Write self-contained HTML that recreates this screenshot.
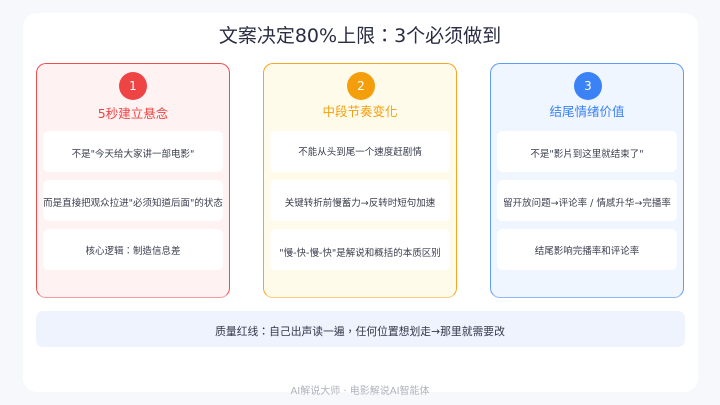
<!DOCTYPE html>
<html><head><meta charset="utf-8"><style>
*{box-sizing:border-box;margin:0;padding:0}
html,body{width:720px;height:405px;overflow:hidden;background:#f7f8fc}
body{position:relative;font-family:"DejaVu Sans","Noto Sans CJK TC",sans-serif;color:#333648}
div{position:absolute}
.t{white-space:nowrap;text-align:center;transform:translateX(-50%);filter:blur(.25px)}
.card{top:63px;width:194px;height:235px;border-radius:10px;border:1px solid}
.b{width:180px;height:41px;background:#fff;border-radius:6px}
.c{top:72px;width:28px;height:28px;border-radius:50%;color:#fff;font-size:12px;line-height:28px;text-align:center}
.h{font-size:12.5px;line-height:18px}
.s{font-size:9.5px;line-height:14px;color:#3a3d4e}
</style></head><body>
<div style="left:23px;top:13px;width:675px;height:379px;background:#fff;border-radius:14px"></div>
<div class="t" style="left:360px;top:22px;font-size:19px;line-height:28px;color:#2a2d42">文案决定80%上限：3个必须做到</div>

<div class="card" style="left:36px;background:#fff2f2;border-color:#ef4c50 #ef4c50 #f79c9c"></div>
<div class="card" style="left:263px;background:#fffbeb;border-color:#f7a422 #f7a422 #fccb7a"></div>
<div class="card" style="left:490px;background:#eff6ff;border-color:#5f9af5 #5f9af5 #8fb8fa"></div>

<div class="c" style="left:119px;background:#ef4444">1</div>
<div class="c" style="left:347px;background:#f59e0b">2</div>
<div class="c" style="left:574px;background:#3b82f6">3</div>

<div class="t h" style="left:133px;top:105px;color:#ef4444">5秒建立悬念</div>
<div class="t h" style="left:360px;top:103px;color:#f59e0b">中段节奏变化</div>
<div class="t h" style="left:587px;top:103px;color:#3b82f6">结尾情绪价值</div>

<div class="b" style="left:43px;top:131px"></div>
<div class="b" style="left:43px;top:180px"></div>
<div class="b" style="left:43px;top:229px"></div>
<div class="b" style="left:270px;top:131px"></div>
<div class="b" style="left:270px;top:180px"></div>
<div class="b" style="left:270px;top:229px"></div>
<div class="b" style="left:497px;top:131px"></div>
<div class="b" style="left:497px;top:180px"></div>
<div class="b" style="left:497px;top:229px"></div>

<div class="t s" style="left:133px;top:148px">不是"今天给大家讲一部电影"</div>
<div class="t s" style="left:133px;top:197px">而是直接把观众拉进"必须知道后面"的状态</div>
<div class="t s" style="left:133px;top:245px">核心逻辑：制造信息差</div>
<div class="t s" style="left:360px;top:146px">不能从头到尾一个速度赶剧情</div>
<div class="t s" style="left:360px;top:197px">关键转折前慢蓄力→反转时短句加速</div>
<div class="t s" style="left:360px;top:247px">"慢-快-慢-快"是解说和概括的本质区别</div>
<div class="t s" style="left:587px;top:148px">不是"影片到这里就结束了"</div>
<div class="t s" style="left:587px;top:197px">留开放问题→评论率 / 情感升华→完播率</div>
<div class="t s" style="left:587px;top:245px">结尾影响完播率和评论率</div>

<div style="left:36px;top:311px;width:649px;height:36px;background:#eff3fd;border-radius:7px"></div>
<div class="t" style="left:360px;top:324px;font-size:10.8px;line-height:16px;color:#333648">质量红线：自己出声读一遍，任何位置想划走→那里就需要改</div>
<div class="t" style="left:360px;top:384px;font-size:10px;line-height:15px;color:#b0b3bd">AI解说大师 · 电影解说AI智能体</div>
</body></html>
